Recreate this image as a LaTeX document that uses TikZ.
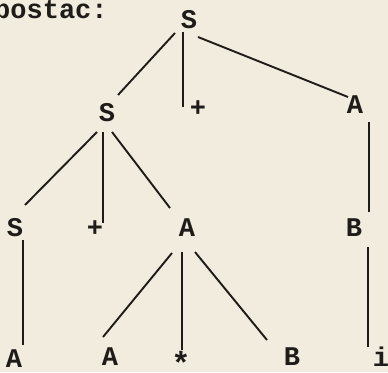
\documentclass[tikz,border=0pt]{standalone}
\usepackage{fontspec}
\setmonofont{Liberation Mono}
\usetikzlibrary{calc}
\definecolor{paper}{RGB}{241,236,222}
\definecolor{ink}{RGB}{30,28,26}
\begin{document}
\begin{tikzpicture}[x=1pt,y=-1pt,
  lbl/.style={text=ink,font=\ttfamily\bfseries\fontsize{27}{29}\selectfont,inner sep=0pt},
  br/.style={draw=ink,line width=1.9pt}]
\useasboundingbox (0,0) rectangle (388,372);
\clip (0,0) rectangle (388,372);
\fill[paper] (0,0) rectangle (388,372);
\node[text=ink,font=\ttfamily\bfseries\fontsize{27}{29}\selectfont,inner sep=0pt,anchor=base west] (cap) at (-6,18) {postac:};
% nodes
\node[lbl] (r) at (189,20) {S};
\node[lbl] (s2) at (107,113) {S};
\node[lbl] (p2) at (198,109) {+};
\node[lbl] (a2) at (355,105) {A};
\node[lbl] (s3) at (15,228) {S};
\node[lbl] (p3) at (95,229) {+};
\node[lbl] (a3) at (187,228) {A};
\node[lbl] (b3) at (354,228) {B};
\node[lbl] (a4a) at (14,359) {A};
\node[lbl] (a4b) at (110,357) {A};
\node[lbl,font=\ttfamily\bfseries\fontsize{32}{34}\selectfont] (st) at (181,363) {*};
\node[lbl] (b4) at (292,357) {B};
\node[lbl] (i4) at (381,357) {i};
% branches
\draw[br] ($(r)+(-14,13)$) -- ($(s2)+(11,-18)$);
\draw[br] ($(r)+(-6,12)$) -- ($(p2)+(-15,-2)$);
\draw[br] ($(r)+(9,17)$) -- ($(a2)+(-7,-8)$);
\draw[br] ($(s2)+(-10,19)$) -- ($(s3)+(10,-23)$);
\draw[br] ($(s2)+(-4,19)$) -- ($(p3)+(8,-6)$);
\draw[br] ($(s2)+(5,19)$) -- ($(a3)+(-17,-20)$);
\draw[br] ($(a2)+(14,17)$) -- ($(b3)+(15,-16)$);
\draw[br] ($(s3)+(8,12)$) -- ($(a4a)+(9,-14)$);
\draw[br] ($(a3)+(-15,25)$) -- ($(a4b)+(-7,-20)$);
\draw[br] ($(a3)+(-5,24)$) -- ($(st)+(1,-13)$);
\draw[br] ($(a3)+(8,24)$) -- ($(b4)+(-25,-17)$);
\draw[br] ($(b3)+(14,19)$) -- ($(i4)+(-13,-10)$);
\end{tikzpicture}
\end{document}
